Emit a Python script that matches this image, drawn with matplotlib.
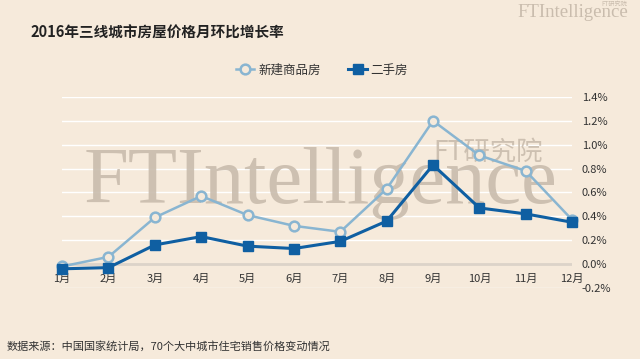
import numpy as np
import matplotlib.pyplot as plt

plt.rcParams['font.family'] = ['Noto Sans CJK SC', 'DejaVu Sans']

months = ['1月', '2月', '3月', '4月', '5月', '6月', '7月', '8月', '9月', '10月', '11月', '12月']
new_homes = [-0.02, 0.06, 0.39, 0.57, 0.41, 0.32, 0.27, 0.63, 1.20, 0.91, 0.78, 0.37]
second_hand = [-0.04, -0.03, 0.16, 0.23, 0.15, 0.13, 0.19, 0.36, 0.83, 0.47, 0.42, 0.35]
yticks = [-0.2, 0.0, 0.2, 0.4, 0.6, 0.8, 1.0, 1.2, 1.4]

bg = '#F6EADB'
light = '#89B5D1'
dark = '#0F5FA2'
wm = '#C9BCAD'

fig = plt.figure(figsize=(6.4, 3.59), dpi=100, facecolor=bg)
ax = fig.add_axes([0.097, 0.198, 0.797, 0.532], facecolor=bg)

x = np.arange(len(months))
ax.set_xlim(0, 11)
ax.set_ylim(-0.2, 1.4)

# grid
for v in yticks:
    if v == 0:
        ax.axhline(v, color='#DCD3C9', lw=2, zorder=1)
    else:
        ax.axhline(v, color='white', lw=1, zorder=1)

# watermark
ax.text(0.5, 0.435, 'FTIntelligence', transform=fig.transFigure, family='Liberation Serif',
        fontsize=58, color=wm, alpha=0.9, ha='center', va='baseline', zorder=2)
ax.text(0.763, 0.577, 'FT研究院', transform=fig.transFigure, fontsize=19, color=wm,
        alpha=0.9, ha='center', va='center', zorder=2)

ax.plot(x, new_homes, color=light, lw=1.8, marker='o', ms=7, mfc=bg, mec=light, mew=1.8,
        clip_on=False, zorder=3, label='新建商品房')
ax.plot(x, second_hand, color=dark, lw=2.2, marker='s', ms=6.5, mfc=dark, mec=dark,
        clip_on=False, zorder=4, label='二手房')

for s in ax.spines.values():
    s.set_visible(False)
ax.set_xticks(x)
ax.set_xticklabels(months)
ax.tick_params(axis='x', length=0, pad=7, labelsize=8, colors='#333333')
ax.spines['bottom'].set_position(('data', 0))
ax.yaxis.tick_right()
ax.set_yticks(yticks)
ax.set_yticklabels([f'{v:.1f}%' for v in yticks])
ax.tick_params(axis='y', length=0, pad=7, labelsize=8, colors='#333333')

leg = fig.legend(loc='center', bbox_to_anchor=(0.503, 0.805), ncol=2, frameon=False,
                 fontsize=9, handlelength=1.5, columnspacing=2.2, handletextpad=0.3)
for t in leg.get_texts():
    t.set_color('#333333')

fig.text(0.047, 0.91, '2016年三线城市房屋价格月环比增长率', fontsize=10.5, fontweight='bold',
         color='#222222', va='center')
fig.text(0.011, 0.036, '数据来源：中国国家统计局，70个大中城市住宅销售价格变动情况', fontsize=8,
         color='#333333', va='center')

# logo top right
fig.text(0.981, 0.953, 'FTIntelligence', family='Liberation Serif', fontsize=13.5, color=wm,
         ha='right', va='baseline')
fig.text(0.981, 0.988, 'FT研究院', fontsize=4.5, color=wm, ha='right', va='center')

fig.savefig('out.png', dpi=100, facecolor=bg)
